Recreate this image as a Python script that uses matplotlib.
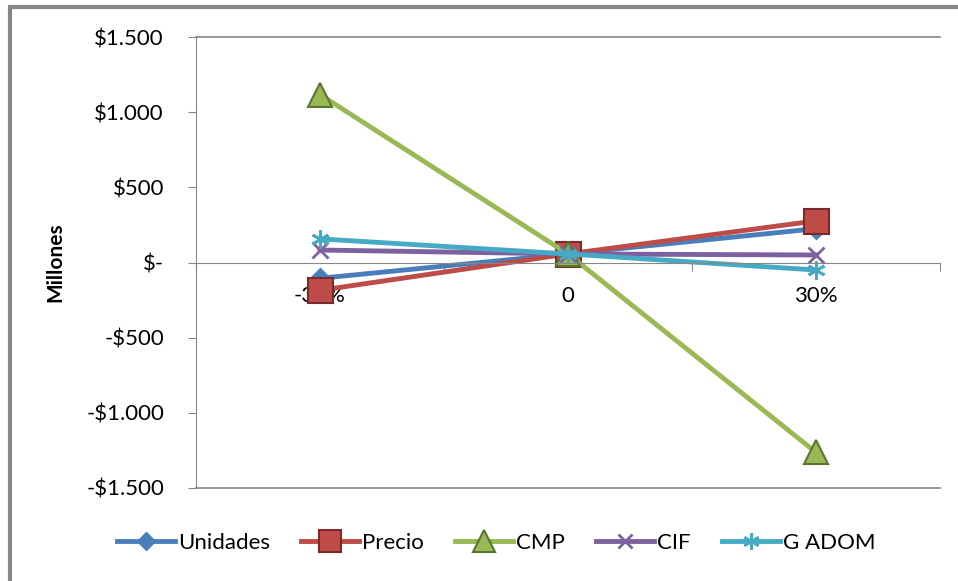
import matplotlib.pyplot as plt
from matplotlib.patches import Rectangle
from matplotlib.ticker import FixedLocator, FuncFormatter

plt.rcParams['font.family'] = ['Lato', 'DejaVu Sans']

# data (millions)
categories = ['-30%', '0', '30%']
unidades = [-105, 57, 225]
precio = [-185, 57, 277]
cmp_vals = [1117, 57, -1263]
cif = [83, 57, 50]
g_adom = [157, 57, -50]

series = [
    ('Unidades', unidades, '#4A7EBB', 'D', 9, '#4A7EBB'),
    ('Precio', precio, '#BE4B48', 's', 18, '#7a2a28'),
    ('CMP', cmp_vals, '#98B954', '^', 17, '#5a7530'),
    ('CIF', cif, '#7D60A0', 'x', 11, '#7D60A0'),
    ('G ADOM', g_adom, '#46AAC5', (6, 2, 0), 13, '#46AAC5'),
]

fig = plt.figure(figsize=(9.58, 5.81), dpi=100)
ax = fig.add_axes([196 / 958, 1 - 488 / 581, (940 - 196) / 958, (488 - 37) / 581])

# outer chart border
fig.patches.append(Rectangle((10 / 958, -0.05), 1.1, 1 - 7 / 581 + 0.05,
                             transform=fig.transFigure, fill=False,
                             edgecolor='#878787', linewidth=3))

x = list(range(len(categories)))
for name, vals, color, marker, ms, edge in series:
    ax.plot(x, vals, color=color, linewidth=3.5, marker=marker, markersize=ms,
            markerfacecolor=color, markeredgecolor=edge,
            markeredgewidth=1.5 if edge != color else 2, label=name)

ax.set_xlim(-0.5, 2.5)
ax.set_ylim(-1500, 1500)

for s in ['top', 'right']:
    ax.spines[s].set_visible(False)
ax.spines['left'].set_color('#878787')
ax.spines['bottom'].set_position(('data', 0))
ax.spines['bottom'].set_color('#878787')
ax.axhline(1500, color='#878787', linewidth=1.2, clip_on=False)
ax.axhline(-1500, color='#878787', linewidth=1.2, clip_on=False)

ax.xaxis.set_major_locator(FixedLocator([-0.5, 0.5, 1.5, 2.5]))
ax.xaxis.set_minor_locator(FixedLocator(x))
ax.set_xticklabels([])
ax.set_xticklabels(categories, minor=True)
ax.tick_params(axis='x', which='major', length=6, color='#878787', direction='out')
ax.tick_params(axis='x', which='minor', length=0, labelsize=16, pad=17)

yticks = [1500, 1000, 500, 0, -500, -1000, -1500]


def money(v, pos):
    if v == 0:
        return '$-'
    s = '${:,.0f}'.format(abs(v)).replace(',', '.')
    return '-' + s if v < 0 else s


ax.yaxis.set_major_locator(FixedLocator(yticks))
ax.yaxis.set_major_formatter(FuncFormatter(money))
ax.tick_params(axis='y', length=6, color='#878787', direction='out',
               labelsize=16, pad=17)
ax.set_ylabel('Millones', fontsize=15, fontweight='bold', labelpad=15)

fig.legend(loc='center', bbox_to_anchor=(0.518, 1 - 543 / 581), ncol=5,
           frameon=False, fontsize=16, handlelength=2.6, handletextpad=0.15,
           columnspacing=1.4, markerscale=0.9)

fig.savefig('out.png', dpi=100)
